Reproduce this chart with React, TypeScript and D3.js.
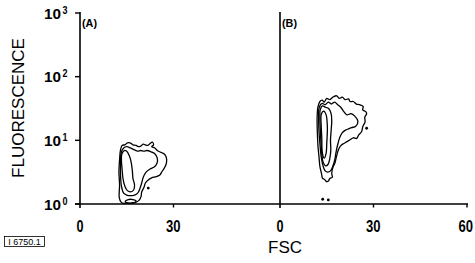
import React, { useEffect, useRef } from "react";
import * as d3 from "d3";

const W = 475;
const H = 263;

// axis values
const decades = [0, 1, 2, 3];
const fscLabelsA = [0, 30];
const fscLabelsB = [0, 30, 60];
const fscTicks = [30, 60];
const panelLabels = ["(A)", "(B)"];

// contour outlines, points as [FSC, log10 fluorescence]
const contourA1: [number, number][] = [
  [12.6, 0.1], [12.7, 0.3], [12.5, 0.5], [12.7, 0.7], [13.0, 0.85], [13.5, 0.92], [14.4, 0.93],
  [15.2, 0.96], [16.0, 0.96], [17.0, 0.93], [18.0, 0.92], [18.7, 0.9], [19.5, 0.91], [20.3, 0.94],
  [20.9, 0.93], [21.8, 0.92], [22.5, 0.95], [23.2, 0.97], [23.6, 0.93], [23.0, 0.9], [24.0, 0.88],
  [24.6, 0.85], [25.5, 0.82], [26.5, 0.8], [27.3, 0.77], [27.8, 0.7], [27.6, 0.62], [27.0, 0.56],
  [26.2, 0.5], [25.7, 0.46], [24.5, 0.43], [23.0, 0.41], [22.0, 0.38], [21.0, 0.33], [20.5, 0.26],
  [19.8, 0.19], [19.6, 0.12], [19.0, 0.06], [18.0, 0.03], [17.1, 0.02], [16.0, 0.01], [15.0, 0.02],
  [14.0, 0.01], [13.2, 0.03],
];
const contourA2: [number, number][] = [
  [13.2, 0.8], [14.0, 0.88], [15.0, 0.9], [16.2, 0.88], [17.5, 0.85], [18.5, 0.83], [19.5, 0.84],
  [20.5, 0.83], [21.5, 0.84], [22.8, 0.82], [24.0, 0.79], [24.8, 0.72], [24.7, 0.64], [23.8, 0.58],
  [22.5, 0.55], [21.2, 0.5], [20.3, 0.42], [19.8, 0.33], [19.2, 0.24], [18.5, 0.17], [17.5, 0.14],
  [16.2, 0.13], [15.0, 0.14], [14.0, 0.17], [13.3, 0.28], [13.0, 0.45], [13.0, 0.62],
];
const contourA3: [number, number][] = [
  [13.4, 0.78], [14.2, 0.84], [15.0, 0.83], [15.8, 0.76], [16.4, 0.66], [16.8, 0.52], [17.0, 0.4],
  [17.5, 0.3], [17.2, 0.22], [16.2, 0.19], [15.2, 0.21], [14.4, 0.28], [13.8, 0.4], [13.5, 0.55],
  [13.3, 0.68],
];
const contourA4: [number, number][] = [
  [14.5, 0.04], [15.5, 0.07], [17.0, 0.07], [18.0, 0.05], [17.5, 0.02], [16.0, 0.015], [15.0, 0.02],
];
const dotsA: [number, number][] = [[21.9, 0.25]];

const contourB1: [number, number][] = [
  [12.2, 1.53], [12.8, 1.61], [13.5, 1.63], [14.2, 1.6], [15.0, 1.66], [16.0, 1.64], [17.0, 1.68],
  [18.2, 1.7], [19.0, 1.66], [20.0, 1.68], [20.9, 1.64], [22.0, 1.65], [22.5, 1.61], [23.5, 1.61],
  [24.5, 1.57], [25.5, 1.56], [26.7, 1.53], [26.5, 1.48], [27.5, 1.45], [27.8, 1.42], [27.2, 1.36],
  [27.3, 1.29], [26.6, 1.22], [26.2, 1.14], [25.2, 1.08], [24.6, 1.03], [23.5, 1.04], [22.5, 1.01],
  [21.5, 0.98], [20.5, 0.95], [19.8, 0.93], [19.0, 0.88], [18.4, 0.8], [18.0, 0.72], [17.6, 0.64],
  [17.0, 0.58], [16.6, 0.48], [16.8, 0.42], [16.0, 0.4], [15.5, 0.36], [15.0, 0.35], [14.2, 0.39],
  [13.7, 0.4], [13.3, 0.48], [12.8, 0.59], [12.5, 0.75], [12.2, 0.9], [12.0, 1.1], [11.9, 1.32],
  [12.0, 1.45],
];
const contourB2: [number, number][] = [
  [12.6, 1.52], [13.5, 1.58], [14.5, 1.56], [15.5, 1.6], [16.5, 1.57], [17.5, 1.6], [18.5, 1.56],
  [19.5, 1.52], [20.5, 1.45], [21.5, 1.4], [22.8, 1.42], [24.0, 1.38], [25.0, 1.3], [24.3, 1.22],
  [23.0, 1.2], [22.0, 1.18], [21.0, 1.16], [20.0, 1.12], [19.2, 1.05], [18.6, 0.95], [18.0, 0.82],
  [17.6, 0.7], [17.0, 0.6], [16.2, 0.52], [15.3, 0.5], [14.5, 0.52], [13.8, 0.6], [13.2, 0.75],
  [12.8, 0.95], [12.5, 1.15], [12.4, 1.35],
];
const contourB3: [number, number][] = [
  [12.9, 1.48], [13.6, 1.54], [14.6, 1.52], [15.6, 1.5], [16.4, 1.42], [16.6, 1.3], [16.4, 1.15],
  [16.2, 1.0], [16.3, 0.85], [16.0, 0.72], [15.4, 0.62], [14.6, 0.6], [13.8, 0.66], [13.4, 0.8],
  [13.1, 1.0], [12.9, 1.2], [12.8, 1.38],
];
const contourB4: [number, number][] = [
  [13.2, 1.4], [14.0, 1.46], [14.8, 1.4], [15.2, 1.2], [15.0, 0.95], [14.8, 0.8], [14.2, 0.72],
  [13.6, 0.8], [13.4, 1.05], [13.2, 1.25],
];
const dotsB: [number, number][] = [[13.7, 0.075], [15.5, 0.064], [27.8, 1.19]];

const boldFont = "'Liberation Sans', Arial, sans-serif";
const plainFont = "'Liberation Sans', Arial, sans-serif";

const App = () => {
  const svgRef = useRef<SVGSVGElement>(null);

  useEffect(() => {
    const svg = d3.select(svgRef.current);
    svg.selectAll("*").remove();

    const y = d3.scaleLinear().domain([0, 3]).range([204, 13]);
    const xA = d3.scaleLinear().domain([0, 60]).range([80, 267]);
    const xB = d3.scaleLinear().domain([0, 60]).range([280, 467]);

    const g = svg.append("g");

    // baseline across both panels
    g.append("line")
      .attr("x1", xA(0) - 5).attr("x2", xB(60) + 1)
      .attr("y1", y(0)).attr("y2", y(0))
      .attr("stroke", "#000").attr("stroke-width", 1.6);

    // vertical axes
    [xA, xB].forEach((x) => {
      g.append("line")
        .attr("x1", x(0)).attr("x2", x(0))
        .attr("y1", y(3) - 1).attr("y2", y(0) + 4)
        .attr("stroke", "#000").attr("stroke-width", 1.6);
    });

    // decade ticks on A
    g.selectAll(".ytick").data(decades).enter().append("line")
      .attr("x1", xA(0) - 5).attr("x2", xA(0))
      .attr("y1", (d) => y(d)).attr("y2", (d) => y(d))
      .attr("stroke", "#000").attr("stroke-width", 1.4);

    // decade labels, condensed bold
    g.selectAll(".ylab").data(decades).enter().append("text")
      .attr("x", 44).attr("y", (d) => y(d) + 5.5)
      .attr("font-family", boldFont).attr("font-weight", "bold")
      .attr("font-size", 15)
      .attr("textLength", 17).attr("lengthAdjust", "spacingAndGlyphs")
      .text("10");
    g.selectAll(".ysup").data(decades).enter().append("text")
      .attr("x", 62.5).attr("y", (d) => y(d) + 0.5)
      .attr("font-family", boldFont).attr("font-weight", "bold")
      .attr("font-size", 10)
      .attr("textLength", 5).attr("lengthAdjust", "spacingAndGlyphs")
      .text((d) => String(d));

    // fsc ticks
    fscTicks.forEach((t) => {
      const xs = t === 30 ? [xA(t), xB(t)] : [xB(t)];
      xs.forEach((px) => {
        g.append("line")
          .attr("x1", px).attr("x2", px)
          .attr("y1", y(0)).attr("y2", y(0) + 3.5)
          .attr("stroke", "#000").attr("stroke-width", 1.4);
      });
    });

    const xLabel = (x: d3.ScaleLinear<number, number>, vals: number[]) => {
      g.append("g").selectAll("text").data(vals).enter().append("text")
        .attr("x", (d) => x(d) - (d === 0 ? 3.5 : d === 60 ? 8.5 : 7.5)).attr("y", 232)
        .attr("font-family", boldFont).attr("font-weight", "bold")
        .attr("font-size", 16)
        .attr("textLength", (d) => (d === 0 ? 7 : 14.5)).attr("lengthAdjust", "spacingAndGlyphs")
        .text((d) => String(d));
    };
    xLabel(xA, fscLabelsA);
    xLabel(xB, fscLabelsB);

    // panel labels
    [xA, xB].forEach((x, i) => {
      g.append("text")
        .attr("x", x(0) + 2).attr("y", 27)
        .attr("font-family", boldFont).attr("font-weight", "bold")
        .attr("font-size", 11)
        .attr("textLength", 15).attr("lengthAdjust", "spacingAndGlyphs")
        .text(panelLabels[i]);
    });

    // contours
    const drawSet = (x: d3.ScaleLinear<number, number>, sets: [number, number][][], dots: [number, number][]) => {
      const line = d3.line<[number, number]>()
        .x((d) => x(d[0])).y((d) => y(d[1]))
        .curve(d3.curveCatmullRomClosed.alpha(0.5));
      sets.forEach((s) => {
        g.append("path").attr("d", line(s))
          .attr("fill", "none").attr("stroke", "#000").attr("stroke-width", 1.3);
      });
      g.selectAll(null).data(dots).enter().append("circle")
        .attr("cx", (d) => x(d[0])).attr("cy", (d) => y(d[1]))
        .attr("r", 1.4).attr("fill", "#000");
    };
    drawSet(xA, [contourA1, contourA2, contourA3, contourA4], dotsA);
    drawSet(xB, [contourB1, contourB2, contourB3, contourB4], dotsB);

    // axis titles
    svg.append("text")
      .attr("transform", `translate(24,${108}) rotate(-90)`)
      .attr("text-anchor", "middle")
      .attr("font-family", plainFont).attr("font-size", 17)
      .text("FLUORESCENCE");
    svg.append("text")
      .attr("x", 285).attr("y", 253)
      .attr("text-anchor", "middle")
      .attr("font-family", plainFont).attr("font-size", 17)
      .text("FSC");

    // figure code box
    svg.append("rect")
      .attr("x", 4.5).attr("y", 236.5).attr("width", 40).attr("height", 10)
      .attr("fill", "none").attr("stroke", "#000").attr("stroke-width", 0.8);
    svg.append("text")
      .attr("x", 24.5).attr("y", 244.8)
      .attr("text-anchor", "middle")
      .attr("font-family", plainFont).attr("font-size", 9)
      .text("I 6750.1");
  }, []);

  return (
    <svg
      ref={svgRef}
      width={W}
      height={H}
      style={{ position: "absolute", left: 0, top: 0, background: "#fff" }}
    />
  );
};

export default App;
